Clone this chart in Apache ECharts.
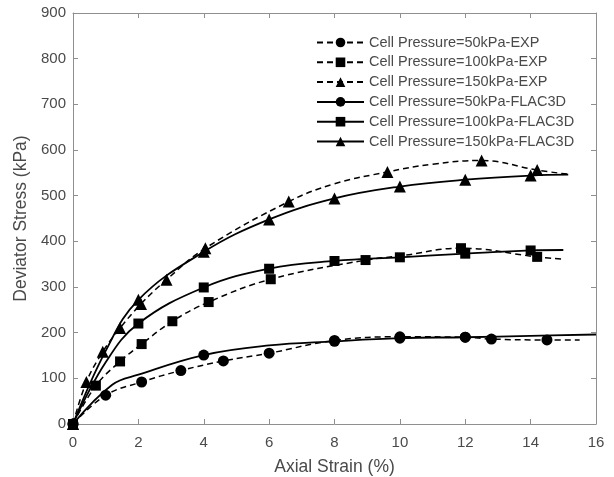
<!DOCTYPE html>
<html><head><meta charset="utf-8">
<script src="https://cdn.jsdelivr.net/npm/echarts@6/dist/echarts.min.js"></script>
<style>html,body{margin:0;padding:0;background:#fff}#c{width:614px;height:477px}</style>
</head><body><div id="c"></div>
<script>
// ---- data ----
const xTicks = [0, 2, 4, 6, 8, 10, 12, 14, 16];
const yTicks = [0, 100, 200, 300, 400, 500, 600, 700, 800, 900];
const seriesNames = [
  'Cell Pressure=50kPa-EXP', 'Cell Pressure=100kPa-EXP', 'Cell Pressure=150kPa-EXP',
  'Cell Pressure=50kPa-FLAC3D', 'Cell Pressure=100kPa-FLAC3D', 'Cell Pressure=150kPa-FLAC3D'
];

const exp50Strain  = [0, 1.0, 2.1, 3.3, 4.6, 6.0, 8.0, 10.0, 12.0, 12.8, 14.5, 15.5];
const exp50Stress  = [0, 63, 92, 117, 138, 155, 183, 191, 190, 186, 184, 184];
const exp50Markers = [0, 1.0, 2.1, 3.3, 4.6, 6.0, 8.0, 10.0, 12.0, 12.8, 14.5];

const exp100Strain  = [0, 0.7, 1.44, 2.1, 3.04, 4.15, 6.05, 8.95, 10.0, 11.87, 14.2, 15.0];
const exp100Stress  = [0, 84, 137, 175, 225, 267, 317, 359, 368, 385, 366, 361];
const exp100Markers = [0, 0.7, 1.44, 2.1, 3.04, 4.15, 6.05, 8.95, 11.87, 14.2];

const exp150Strain  = [0, 0.41, 0.91, 1.44, 2.08, 2.86, 4.05, 6.6, 8.0, 9.62, 11.0, 12.5, 14.2, 15.15];
const exp150Stress  = [0, 92, 158, 210, 263, 316, 385, 487, 526, 552, 569, 577, 556, 547];
const exp150Markers = [0, 0.41, 0.91, 1.44, 2.08, 2.86, 4.05, 6.6, 9.62, 12.5, 14.2];

const flac50Strain  = [0, 1.2, 2, 4, 6, 8, 10, 12, 14, 16];
const flac50Stress  = [0, 86, 108, 151, 172, 181, 188, 190, 193, 196];
const flac50Markers = [0, 4, 8, 10, 12];

const flac100Strain  = [0, 1, 2, 4, 6, 8, 10, 12, 14, 15];
const flac100Stress  = [0, 135, 220, 299, 340, 357, 365, 373, 380, 381];
const flac100Markers = [0, 2, 4, 6, 8, 10, 12, 14];

const flac150Strain  = [0, 1, 2, 4, 6, 8, 10, 12, 14, 15.15];
const flac150Stress  = [0, 160, 272, 377, 448, 494, 520, 535, 544, 546];
const flac150Markers = [0, 2, 4, 6, 8, 10, 12, 14];

// ---- build ----
function build(xs, ys, marks) {
  return xs.map((x, i) => marks.indexOf(x) >= 0 ? { value: [x, ys[i]] } : { value: [x, ys[i]], symbol: 'none' });
}
const FONT = 'Liberation Sans, Arial, sans-serif';
const TXT = '#4a4a4a';
const FRAME = '#8f8f8f';

function mk(name, data, symbol, size, dashed) {
  return {
    name: name, type: 'line', data: data, smooth: 0.4,
    symbol: symbol, symbolSize: size, showAllSymbol: true, clip: false,
    lineStyle: { color: '#000', width: dashed ? 1.5 : 1.8, type: dashed ? [6, 4] : 'solid' },
    itemStyle: { color: '#000' },
    emphasis: { disabled: true }
  };
}

const chart = echarts.init(document.getElementById('c'), null, { renderer: 'canvas' });
const axisCommon = {
  type: 'value', splitLine: { show: false },
  axisLine: { show: true, onZero: false, lineStyle: { color: FRAME, width: 1 } },
  axisTick: { show: true, inside: true, length: 5, lineStyle: { color: FRAME } }
};
chart.setOption({
  animation: false,
  backgroundColor: '#fff',
  grid: { left: 73, right: 18, top: 13, bottom: 53, containLabel: false, outerBoundsMode: 'none' },
  xAxis: [
    Object.assign({}, axisCommon, {
      min: xTicks[0], max: xTicks[xTicks.length - 1], interval: xTicks[1] - xTicks[0],
      name: 'Axial Strain (%)', nameLocation: 'middle', nameGap: 34,
      nameTextStyle: { fontFamily: FONT, fontSize: 17.5, color: TXT },
      axisLabel: { margin: 11, fontFamily: FONT, fontSize: 15, color: TXT }
    }),
    Object.assign({}, axisCommon, {
      position: 'top',
      min: xTicks[0], max: xTicks[xTicks.length - 1], interval: xTicks[1] - xTicks[0],
      axisLabel: { show: false }
    })
  ],
  yAxis: [
    Object.assign({}, axisCommon, {
      min: yTicks[0], max: yTicks[yTicks.length - 1], interval: yTicks[1] - yTicks[0],
      name: 'Deviator Stress (kPa)', nameLocation: 'middle', nameGap: 36,
      nameTextStyle: { fontFamily: FONT, fontSize: 17.5, color: TXT },
      axisLabel: { margin: 7, fontFamily: FONT, fontSize: 15, color: TXT }
    }),
    Object.assign({}, axisCommon, {
      position: 'right',
      min: yTicks[0], max: yTicks[yTicks.length - 1], interval: yTicks[1] - yTicks[0],
      axisLabel: { show: false }
    })
  ],
  legend: {
    orient: 'vertical', left: 316, top: 35, padding: 0,
    itemWidth: 47, itemHeight: 12, itemGap: 4.8,
    textStyle: { fontFamily: FONT, fontSize: 14.5, color: TXT, lineHeight: 15 },
    data: seriesNames
  },
  series: [
    mk(seriesNames[0], build(exp50Strain, exp50Stress, exp50Markers), 'circle', 11, true),
    mk(seriesNames[1], build(exp100Strain, exp100Stress, exp100Markers), 'rect', 10, true),
    mk(seriesNames[2], build(exp150Strain, exp150Stress, exp150Markers), 'triangle', 12, true),
    mk(seriesNames[3], build(flac50Strain, flac50Stress, flac50Markers), 'circle', 11, false),
    mk(seriesNames[4], build(flac100Strain, flac100Stress, flac100Markers), 'rect', 10, false),
    mk(seriesNames[5], build(flac150Strain, flac150Stress, flac150Markers), 'triangle', 12, false)
  ]
});
</script></body></html>
